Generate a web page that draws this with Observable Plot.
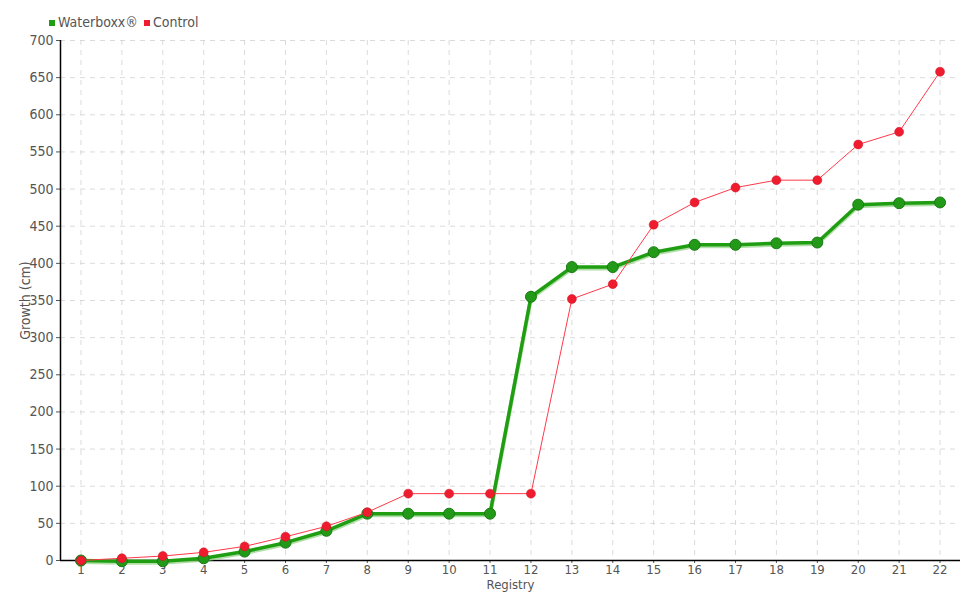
<!DOCTYPE html>
<html>
<head>
<meta charset="utf-8">
<script src="https://cdn.jsdelivr.net/npm/d3@7"></script>
<script src="https://cdn.jsdelivr.net/npm/@observablehq/plot@0.6"></script>
<style>
  body { margin: 0; background: #fff; font-family: "DejaVu Sans Condensed", "Liberation Sans Narrow", "DejaVu Sans", sans-serif; }
  #legend { height: 32px; box-sizing: border-box; padding-left: 49px; padding-top: 13px; font-size: 14px; color: #555; line-height: 18px; }
  #legend span.sw { display: inline-block; width: 6px; height: 6px; margin-right: 3px; vertical-align: 1px; }
  #legend span.item { margin-right: 6px; }
  svg { display: block; }
</style>
</head>
<body>
<div id="legend"></div>
<div id="chart"></div>
<script>
const registry = [1,2,3,4,5,6,7,8,9,10,11,12,13,14,15,16,17,18,19,20,21,22];
const waterboxx = [0,-1,-1,3,12,24,40,63,63,63,63,355,395,395,415,425,425,427,428,479,481,482];
const control = [0,3,6,11,19,32,46,65,90,90,90,90,352,372,452,482,502,512,512,560,577,658];
const yTicks = d3.range(0, 701, 50);
const seriesNames = ["Waterboxx®", "Control"];
const seriesColors = ["#1f9e12", "#ee1c2e"];

const legend = document.getElementById("legend");
seriesNames.forEach((n, i) => {
  const s = document.createElement("span");
  s.className = "item";
  s.innerHTML = `<span class="sw" style="background:${seriesColors[i]}"></span>${n}`;
  legend.appendChild(s);
});

const wb = registry.map((r, i) => ({r, v: waterboxx[i]}));
const ct = registry.map((r, i) => ({r, v: control[i]}));

const chart = Plot.plot({
  width: 980,
  height: 568,
  marginLeft: 60,
  marginRight: 20,
  marginTop: 8,
  marginBottom: 40,
  style: { fontFamily: '"DejaVu Sans Condensed", "Liberation Sans Narrow", "DejaVu Sans", sans-serif', fontSize: "14px", color: "#555" },
  x: { domain: [0.5, 22.5] },
  y: { domain: [0, 700] },
  marks: [
    Plot.gridX(registry, { stroke: "#ccc", strokeOpacity: 0.7, strokeDasharray: "5,5" }),
    Plot.gridY(yTicks, { stroke: "#ccc", strokeOpacity: 0.7, strokeDasharray: "5,5" }),
    Plot.axisX(registry, { tickSize: 3, tickPadding: 1, fill: "#555", fontSize: 13, label: null }),
    Plot.axisX({ ticks: [], tickSize: 0, label: "Registry", labelAnchor: "center", labelArrow: "none", labelOffset: 28, fill: "#555", fontSize: 13 }),
    Plot.axisY(yTicks, { tickSize: 4, tickPadding: 3, fill: "#555", label: "Growth (cm)", labelAnchor: "center", labelArrow: "none", labelOffset: 40, fontSize: 14 }),
    Plot.ruleY([0], { stroke: "#000", strokeWidth: 1.5 }),
    Plot.ruleX([0.5], { y1: 0, y2: 700, stroke: "#000", strokeWidth: 1.5 }),
    Plot.line(wb, { x: "r", y: "v", stroke: "#8fd080", strokeWidth: 4, dy: 1.5, strokeOpacity: 0.7 }),
    Plot.line(wb, { x: "r", y: "v", stroke: seriesColors[0], strokeWidth: 3.5 }),
    Plot.dot(wb, { x: "r", y: "v", r: 5.5, fill: "#229a18", stroke: "#1a7a14", strokeWidth: 1 }),
    Plot.line(ct, { x: "r", y: "v", stroke: "#ff3a4a", strokeWidth: 1 }),
    Plot.dot(ct, { x: "r", y: "v", r: 4.5, fill: seriesColors[1], stroke: "#d0101f", strokeWidth: 0.5 })
  ]
});
document.getElementById("chart").appendChild(chart);
</script>
</body>
</html>
